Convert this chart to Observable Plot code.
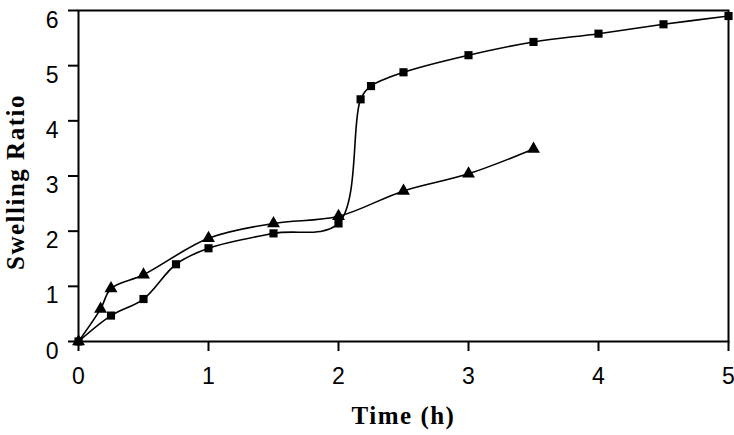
<!DOCTYPE html>
<html>
<head>
<meta charset="utf-8">
<script src="https://cdn.jsdelivr.net/npm/d3@7"></script>
<script src="https://cdn.jsdelivr.net/npm/@observablehq/plot@0.6"></script>
<style>
  html, body { margin: 0; padding: 0; background: #fff; }
  svg { overflow: visible; }
  svg g[aria-label="text"] text { letter-spacing: 1.5px; }
</style>
</head>
<body>
<div id="chart"></div>
<script>
// Series with square markers
const squareTime  = [0, 0.25, 0.5, 0.75, 1, 1.5, 2, 2.17, 2.25, 2.5, 3, 3.5, 4, 4.5, 5];
const squareRatio = [0, 0.47, 0.77, 1.40, 1.69, 1.96, 2.14, 4.39, 4.63, 4.88, 5.19, 5.43, 5.58, 5.75, 5.90];
// Series with triangle markers
const triTime  = [0, 0.17, 0.25, 0.5, 1, 1.5, 2, 2.5, 3, 3.5];
const triRatio = [0, 0.59, 0.96, 1.21, 1.87, 2.14, 2.27, 2.73, 3.04, 3.49];

const xTicks = [0, 1, 2, 3, 4, 5];
const yTicks = [0, 1, 2, 3, 4, 5, 6];
const xTitle = "Time (h)";
const yTitle = "Swelling Ratio";

const squares = squareTime.map((t, i) => ({t, r: squareRatio[i]}));
const triangles = triTime.map((t, i) => ({t, r: triRatio[i]}));

const chart = Plot.plot({
  width: 734,
  height: 435,
  marginLeft: 78,
  marginRight: 6,
  marginTop: 10,
  marginBottom: 94,
  style: {fontFamily: "Liberation Sans", fontSize: "23px", color: "#000", background: "#fff", overflow: "visible"},
  x: {domain: [0, 5], ticks: xTicks},
  y: {domain: [0, 6], ticks: yTicks},
  marks: [
    Plot.frame({stroke: "#000", strokeWidth: 2}),
    Plot.axisX({ticks: xTicks, tickSize: 10, tickPadding: 16, tickFormat: d => d, label: null, stroke: "#000", strokeWidth: 2}),
    Plot.axisY({ticks: yTicks, tickSize: 10, tickPadding: 10, tickFormat: d => d, label: null, stroke: "#000", strokeWidth: 2}),
    Plot.line(squares, {x: "t", y: "r", curve: "catmull-rom", stroke: "#000", strokeWidth: 1.6}),
    Plot.line(triangles, {x: "t", y: "r", curve: "catmull-rom", stroke: "#000", strokeWidth: 1.6}),
    Plot.dot(squares, {x: "t", y: "r", symbol: "square", r: 4.6, fill: "#000", stroke: null}),
    Plot.dot(triangles, {x: "t", y: "r", symbol: "triangle", r: 4.8, fill: "#000", stroke: null}),
    Plot.text([xTitle], {text: d => d, frameAnchor: "bottom", lineAnchor: "bottom", dy: 82, fontFamily: "Liberation Serif", fontWeight: "bold", fontSize: 25, fill: "#000"}),
    Plot.text([yTitle], {text: d => d, frameAnchor: "left", rotate: -90, lineAnchor: "middle", textAnchor: "middle", dx: -63, dy: 6, fontFamily: "Liberation Serif", fontWeight: "bold", fontSize: 25, fill: "#000"})
  ]
});
// nudge y tick labels slightly down, as in the reference
d3.select(chart).selectAll('g[aria-label="y-axis tick label"] text').attr("dy", "0.42em");
document.getElementById("chart").appendChild(chart);
</script>
</body>
</html>
